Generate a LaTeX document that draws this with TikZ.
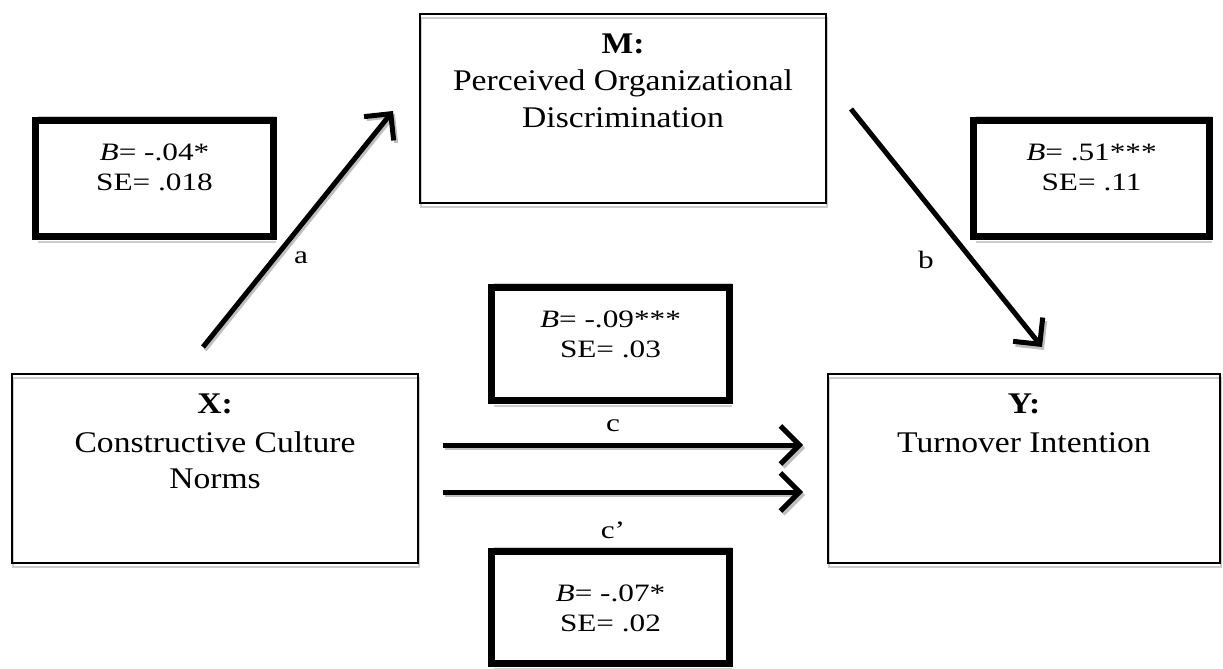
\documentclass[tikz,border=0pt]{standalone}
\usepackage{fontspec}
\setmainfont{Liberation Serif}
\newfontfamily\statfont[FakeStretch=1.25]{Liberation Serif}
\newfontfamily\boxfont[FakeStretch=1.12]{Liberation Serif}
\usetikzlibrary{arrows.meta,backgrounds}
\begin{document}
\begin{tikzpicture}[x=1pt,y=-1pt,
  mainbox/.style={draw=black, line width=2pt, anchor=north west, inner sep=0pt, outer sep=0pt},
  statbox/.style={draw=black, line width=7pt, anchor=north west, inner sep=0pt, outer sep=0pt},
  boxshadow/.style={draw=black!20, line width=2pt},
  pathto/.style={line width=5pt, -{Straight Barb[length=19pt,width=38pt]}},
  pathshadow/.style={draw=black!25, line width=4pt, -{Straight Barb[length=19pt,width=38pt]}},
  stattext/.style={anchor=base, inner sep=0pt, font=\statfont\fontsize{25}{30}\selectfont},
  boxtext/.style={anchor=base, inner sep=0pt, font=\boxfont\fontsize{30}{36}\selectfont},
  pathlabel/.style={inner sep=0pt, font=\statfont\fontsize{25}{30}\selectfont},
]
\useasboundingbox (0,0) rectangle (1223,669);

% main boxes
\node[mainbox, minimum width=406pt, minimum height=189pt] (X) at (12,374) {};
\node[mainbox, minimum width=406pt, minimum height=189pt] (M) at (420,14) {};
\node[mainbox, minimum width=392pt, minimum height=189pt] (Y) at (828,374) {};

% stat boxes
\node[statbox, minimum width=238pt, minimum height=116pt] (Sa) at (35.5,120.5) {};
\node[statbox, minimum width=236pt, minimum height=116pt] (Sb) at (973.5,120.5) {};
\node[statbox, minimum width=238pt, minimum height=113pt] (Sc) at (491.5,287.5) {};
\node[statbox, minimum width=238pt, minimum height=112pt] (Sd) at (491.5,551.5) {};

\begin{scope}[on background layer]
  \foreach \n in {X,M,Y}{
    \draw[boxshadow] ([shift={(1,4)}]\n.north west) rectangle ([shift={(1,4)}]\n.south east);
  }
  \foreach \n in {Sa,Sb,Sc,Sd}{
    \draw[boxshadow] ([shift={(2,-4)}]\n.north west) -- ([shift={(2,-4)}]\n.north east);
    \draw[boxshadow] ([shift={(2,5)}]\n.south west) -- ([shift={(2,5)}]\n.south east);
  }
\end{scope}

% box texts
\node[boxtext] (Xt1) at (215,413) {\bfseries X:};
\node[boxtext] (Xt2) at (215,452) {Constructive Culture};
\node[boxtext] (Xt3) at (215,488) {Norms};
\node[boxtext] (Mt1) at (623,53) {\bfseries M:};
\node[boxtext] (Mt2) at (623,90) {Perceived Organizational};
\node[boxtext] (Mt3) at (623,127) {Discrimination};
\node[boxtext] (Yt1) at (1024,413) {\bfseries Y:};
\node[boxtext] (Yt2) at (1024,452) {Turnover Intention};

% stat texts
\node[stattext] (Sa1) at (154.5,160) {\textit{B}= -.04*};
\node[stattext] (Sa2) at (154.5,190) {SE= .018};
\node[stattext] (Sb1) at (1091.5,160) {\textit{B}= .51***};
\node[stattext] (Sb2) at (1091.5,190) {SE= .11};
\node[stattext] (Sc1) at (610.5,327) {\textit{B}= -.09***};
\node[stattext] (Sc2) at (610.5,357) {SE= .03};
\node[stattext] (Sd1) at (610.5,601) {\textit{B}= -.07*};
\node[stattext] (Sd2) at (610.5,631) {SE= .02};

% arrow end points
\coordinate (a0) at (203,347);  \coordinate (a1) at (393,111);
\coordinate (b0) at (851,109);  \coordinate (b1) at (1042,347);
\coordinate (c0) at (443,445);  \coordinate (c1) at (803,445);
\coordinate (d0) at (443,492);  \coordinate (d1) at (803,492);

\begin{scope}[on background layer]
  \foreach \s/\e in {a0/a1,b0/b1,c0/c1,d0/d1}{
    \draw[pathshadow] ([shift={(2,3)}]\s) -- ([shift={(2,3)}]\e);
  }
\end{scope}
\draw[pathto] (a0) -- (a1);
\draw[pathto] (b0) -- (b1);
\draw[pathto] (c0) -- (c1);
\draw[pathto] (d0) -- (d1);

% path labels
\node[pathlabel] (la) at (301,258) {a};
\node[pathlabel] (lb) at (926,260) {b};
\node[pathlabel] (lc) at (613,426) {c};
\node[pathlabel] (ld) at (613,530) {c’};
\end{tikzpicture}
\end{document}
